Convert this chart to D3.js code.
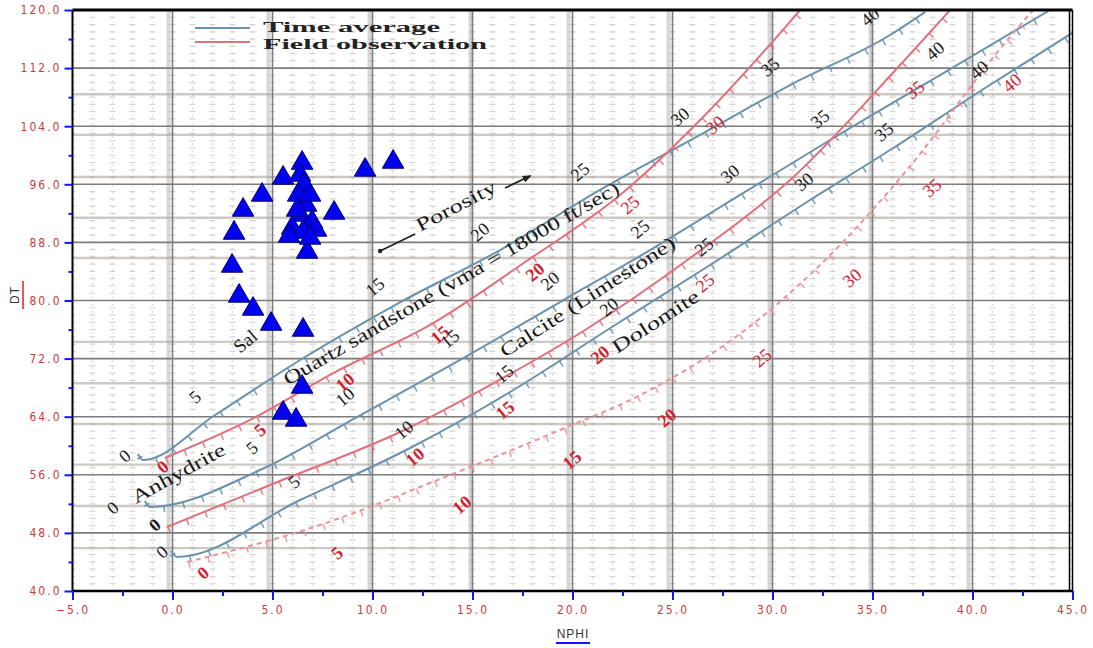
<!DOCTYPE html>
<html lang="en">
<head>
<meta charset="UTF-8" />
<title>DT vs NPHI</title>
<style>
  body { margin: 0; background: #fff; }
  .tick-lbl { font-family: "Liberation Sans Narrow", "DejaVu Sans Condensed", "Liberation Sans", sans-serif; font-size: 12px; fill: #cc3a3a; letter-spacing: 2px; }
  .serif { font-family: "Liberation Serif", "DejaVu Serif", serif; }
</style>
</head>
<body>
<div class="chart"></div>
<script src="https://d3js.org/d3.v7.min.js"></script>
<script>
// axis ticks
const xMajor = [-5, 0, 5, 10, 15, 20, 25, 30, 35, 40, 45]
const xMinor = [-2.5, 2.5, 7.5, 12.5, 17.5, 22.5, 27.5, 32.5, 37.5, 42.5]
const yMajor = [40, 48, 56, 64, 72, 80, 88, 96, 104, 112, 120]
const yMinor = [44, 52, 60, 68, 76, 84, 92, 100, 108, 116]

// grid lines of the scanned chart (not on the axis ticks)
const scanDt = [108.4, 102.8, 97.0, 91.4, 85.85, 74.3, 68.6, 63.0, 57.4, 51.7, 45.9]
const scanNphi = [-0.2, 4.8, 9.85, 14.9, 19.8, 24.8, 29.85, 34.9, 39.8]

// porosity lines: [NPHI, DT, porosity]
const sandTA = [[-1.73, 58.86, null], [-1.48, 58.04, 0], [2.13, 64.23, 5], [6.38, 71.81, 10], [11.13, 79.38, 15], [16.38, 86.95, 20],
  [21.38, 95.22, 25], [26.38, 102.79, 30], [30.88, 109.67, 35], [35.88, 116.56, 40], [37.63, 119.72, null]]
const sandFO = [[-0.38, 58.31, 0], [3.88, 63.55, 5], [8.13, 70.15, 10], [12.88, 76.63, 15], [17.63, 85.30, 20],
  [22.38, 94.53, 25], [26.63, 105.54, 30], [30.73, 117.93, 35], [31.38, 120, null]]
const limeTA = [[-1.38, 52.39, null], [-1.13, 51.57, 0], [4.48, 56.80, 5], [9.13, 63.82, 10], [14.38, 71.81, 15], [19.38, 79.79, 20],
  [23.88, 86.95, 25], [28.38, 94.53, 30], [32.88, 102.10, 35], [38.63, 111.46, 40], [43.88, 120, null]]
const limeFO = [[-0.28, 48.81, 0], [5.13, 54.87, 5], [11.38, 61.89, 10], [15.88, 68.36, 15], [20.63, 75.94, 20],
  [25.88, 85.85, 25], [30.88, 96.59, 30], [36.38, 112.43, 35], [38.88, 120, null]]
const doloTA = [[-0.08, 45.51, null], [0.23, 44.68, 0], [6.38, 52.53, 5], [11.88, 59.69, 10], [16.88, 67.40, 15], [22.13, 76.63, 20],
  [26.88, 84.89, 25], [31.88, 93.84, 30], [35.88, 100.72, 35], [40.63, 109.26, 40], [44.98, 116.83, null]]
const doloFO = [[0.73, 43.99, 0], [7.38, 49.09, 5], [13.63, 55.70, 10], [19.13, 61.89, 15], [23.88, 67.68, 20],
  [28.63, 75.94, 25], [33.13, 86.95, 30], [37.13, 99.35, 35], [41.13, 113.80, 40], [43.03, 120, null]]

// porosity numbers printed on each line
const sandTALabels = [0, 5, 15, 20, 25, 30, 35, 40]
const sandFOLabels = [0, 5, 10, 15, 20, 25, 30]
const limeTALabels = [0, 5, 10, 15, 20, 25, 30, 35, 40]
const limeFOLabels = [0, 10, 15, 20, 25, 35]
const doloTALabels = [0, 5, 10, 15, 20, 25, 30, 35, 40]
const doloFOLabels = [0, 5, 10, 15, 20, 25, 30, 35, 40]

// well points
const nphi = [11.03, 9.63, 6.48, 5.53, 4.48, 3.53, 3.08, 2.98, 3.33, 4.03, 4.93, 6.53, 8.08, 6.73, 6.48, 5.53, 6.18,
  6.38, 6.58, 6.28, 6.68, 6.38, 6.98, 5.98, 6.53, 7.18, 5.83, 6.88, 6.23, 6.88]
const dt = [99.07, 97.97, 98.93, 96.87, 94.53, 92.46, 89.29, 84.75, 80.62, 78.83, 76.76, 75.94, 92.05, 86.68, 68.09, 64.51, 63.55,
  97.28, 95.90, 94.53, 93.15, 91.77, 90.81, 89.98, 89.43, 89.71, 88.88, 88.61, 92.46, 94.53]

const width = 1093
const height = 648

const x = d3.scaleLinear().domain([-5, 45]).range([72.5, 1072.5])
const y = d3.scaleLinear().domain([40, 120]).range([591, 10])

const svg = d3.select('.chart').append('svg')
  .attr('width', width)
  .attr('height', height)
  .style('background', '#fff')

svg.append('clipPath').attr('id', 'plotClip')
  .append('rect')
  .attr('x', x(-5)).attr('y', y(120))
  .attr('width', x(45) - x(-5)).attr('height', y(40) - y(120))

const plot = svg.append('g').attr('clip-path', 'url(#plotClip)')

// speckled fine grid
const fineX = d3.range(-5, 46, 1)
const fineY = d3.range(40, 121, 1)
plot.append('g').selectAll('line').data(fineX).join('line')
  .attr('x1', d => x(d)).attr('x2', d => x(d))
  .attr('y1', y(120)).attr('y2', y(40))
  .attr('stroke', '#dadada').attr('stroke-width', 1)
  .attr('stroke-dasharray', '2 5')
plot.append('g').selectAll('line').data(fineY).join('line')
  .attr('x1', x(-5)).attr('x2', x(45))
  .attr('y1', d => y(d)).attr('y2', d => y(d))
  .attr('stroke', '#d4d4d4').attr('stroke-width', 1.2)
  .attr('stroke-dasharray', '6 14').attr('stroke-dashoffset', 3)

// blurry scan grid
plot.append('g').selectAll('line').data(scanNphi).join('line')
  .attr('x1', d => x(d)).attr('x2', d => x(d))
  .attr('y1', y(120)).attr('y2', y(40))
  .attr('stroke', '#8d8d8d').attr('stroke-width', 4).attr('opacity', 0.35)
plot.append('g').selectAll('line').data(scanDt).join('line')
  .attr('x1', x(-5)).attr('x2', x(45))
  .attr('y1', d => y(d)).attr('y2', d => y(d))
  .attr('stroke', '#a59d94').attr('stroke-width', 2.4).attr('opacity', 0.55)

// main grid
plot.append('g').selectAll('line').data(xMajor.slice(1, -1)).join('line')
  .attr('x1', d => x(d)).attr('x2', d => x(d))
  .attr('y1', y(120)).attr('y2', y(40))
  .attr('stroke', '#7c7c7c').attr('stroke-width', 1.6)
plot.append('g').selectAll('line').data(yMajor.slice(1, -1)).join('line')
  .attr('x1', x(-5)).attr('x2', x(45))
  .attr('y1', d => y(d)).attr('y2', d => y(d))
  .attr('stroke', '#7c7c7c').attr('stroke-width', 1.6)

// porosity lines
const line = d3.line()
  .x(d => x(d[0]))
  .y(d => y(d[1]))
  .curve(d3.curveMonotoneX)

const taColor = '#6a92ad'
const foColor = '#e0707c'

const curves = [
  { pts: sandTA, labels: sandTALabels, color: taColor, txt: '#1a1a1a', off: [-20, -18], zeroOff: [-18, -4], dash: null },
  { pts: sandFO, labels: sandFOLabels, color: foColor, txt: '#d1232e', off: [10, 10], zeroOff: [-2, 9], dash: null },
  { pts: limeTA, labels: limeTALabels, color: taColor, txt: '#1a1a1a', off: [-10, -21], zeroOff: [-37, 1], dash: null },
  { pts: limeFO, labels: limeFOLabels, color: foColor, txt: '#d1232e', off: [15, 25], zeroOff: [-12, -2], zeroTxt: '#1a1a1a', dash: null },
  { pts: doloTA, labels: doloTALabels, color: taColor, txt: '#1a1a1a', off: [-6, -18], zeroOff: [-15, -5], dash: null },
  { pts: doloFO, labels: doloFOLabels, color: '#eb949c', txt: '#d1232e', off: [17, 28], zeroOff: [16, 11], dash: '5 4' }
]

curves.forEach(c => {
  // small porosity ticks under the line
  plot.append('path')
    .attr('d', line(c.pts))
    .attr('fill', 'none')
    .attr('stroke', c.color)
    .attr('stroke-width', 6)
    .attr('stroke-dasharray', '1.6 18.4')
    .attr('transform', 'translate(1.5,3)')
    .attr('opacity', 0.85)
  plot.append('path')
    .attr('d', line(c.pts))
    .attr('fill', 'none')
    .attr('stroke', c.color)
    .attr('stroke-width', 2)
    .attr('stroke-dasharray', c.dash)
})

curves.forEach(c => {
  const lab = c.pts.filter(p => p[2] !== null && c.labels.includes(p[2]))
  plot.append('g').selectAll('text').data(lab).join('text')
    .attr('class', 'serif')
    .attr('transform', d => {
      const o = d[2] === 0 ? c.zeroOff : c.off
      return `translate(${x(d[0]) + o[0]},${y(d[1]) + o[1]}) rotate(-40)`
    })
    .attr('text-anchor', 'middle')
    .attr('dominant-baseline', 'central')
    .attr('font-size', 18)
    .attr('font-weight', d => (c.txt !== '#1a1a1a' && d[2] <= 20) ? 'bold' : 'normal')
    .attr('fill', d => (d[2] === 0 && c.zeroTxt) ? c.zeroTxt : c.txt)
    .text(d => d[2])
})

// chart annotations (rotated text along the lines)
const notes = [
  { t: 'Quartz sandstone (vma = 18000 ft/sec)', nx: 5.78, dt: 68.26, a: -30.2, len: 385 },
  { t: 'Calcite (Limestone)', nx: 16.63, dt: 72.08, a: -33, len: 205 },
  { t: 'Dolomite', nx: 22.23, dt: 72.63, a: -33, len: 100 },
  { t: 'Anhydrite', nx: -1.83, dt: 51.98, a: -29, len: 104 },
  { t: 'Sal', nx: 3.38, dt: 72.63, a: -40, len: null },
  { t: 'Porosity', nx: 12.38, dt: 89.43, a: -27.7, len: 88 }
]
plot.append('g').selectAll('text').data(notes).join('text')
  .attr('class', 'serif')
  .attr('transform', d => `translate(${x(d.nx)},${y(d.dt)}) rotate(${d.a})`)
  .attr('font-size', 19)
  .attr('fill', '#1a1a1a')
  .attr('textLength', d => d.len)
  .attr('lengthAdjust', 'spacingAndGlyphs')
  .text(d => d.t)

// porosity arrow
svg.append('defs').append('marker')
  .attr('id', 'arrow').attr('viewBox', '0 0 10 10')
  .attr('refX', 8).attr('refY', 5)
  .attr('markerWidth', 5).attr('markerHeight', 5)
  .attr('orient', 'auto')
  .append('path').attr('d', 'M0,1 L10,5 L0,9 z').attr('fill', '#222')
const arrowA = [[10.38, 86.82], [12.13, 89.16]]
const arrowB = [[16.63, 95.49], [17.88, 97.14]]
plot.append('path').attr('d', d3.line().x(d => x(d[0])).y(d => y(d[1]))(arrowA))
  .attr('stroke', '#222').attr('stroke-width', 1.8)
plot.append('circle').attr('cx', x(arrowA[0][0])).attr('cy', y(arrowA[0][1])).attr('r', 2.2).attr('fill', '#222')
plot.append('path').attr('d', d3.line().x(d => x(d[0])).y(d => y(d[1]))(arrowB))
  .attr('stroke', '#222').attr('stroke-width', 1.8).attr('marker-end', 'url(#arrow)')

// legend
const legend = svg.append('g')
const legendItems = [['Time average', taColor], ['Field observation', foColor]]
legendItems.forEach((d, i) => {
  legend.append('line')
    .attr('x1', 195).attr('x2', 250)
    .attr('y1', 28 + i * 14).attr('y2', 28 + i * 14)
    .attr('stroke', d[1]).attr('stroke-width', 2)
  legend.append('text')
    .attr('class', 'serif')
    .attr('x', 263).attr('y', 32 + i * 17)
    .attr('font-size', 15).attr('font-weight', 'bold')
    .attr('fill', '#222')
    .attr('textLength', i === 0 ? 177 : 224)
    .attr('lengthAdjust', 'spacingAndGlyphs')
    .text(d[0])
})

// well data triangles
const wells = nphi.map((v, i) => [v, dt[i]])
svg.append('g').selectAll('path').data(wells).join('path')
  .attr('d', d3.symbol(d3.symbolTriangle, 200))
  .attr('transform', d => `translate(${x(d[0])},${y(d[1])})`)
  .attr('fill', '#0202ee')
  .attr('stroke', '#00006a')
  .attr('stroke-width', 1)

// frame
svg.append('line').attr('x1', x(-5)).attr('x2', x(45)).attr('y1', y(120)).attr('y2', y(120))
  .attr('stroke', '#000').attr('stroke-width', 3)
svg.append('line').attr('x1', x(-5)).attr('x2', x(45)).attr('y1', y(40)).attr('y2', y(40))
  .attr('stroke', '#000').attr('stroke-width', 2.5)
svg.append('line').attr('x1', x(-5)).attr('x2', x(-5)).attr('y1', y(120)).attr('y2', y(40))
  .attr('stroke', '#000').attr('stroke-width', 2)
svg.append('line').attr('x1', x(45) - 3).attr('x2', x(45) - 3).attr('y1', y(120)).attr('y2', y(40))
  .attr('stroke', '#000').attr('stroke-width', 1.5)
svg.append('line').attr('x1', x(45)).attr('x2', x(45)).attr('y1', y(120)).attr('y2', y(40))
  .attr('stroke', '#000').attr('stroke-width', 1.5)

// axes
const styleAxis = g => {
  g.select('.domain').remove()
  g.selectAll('line').attr('stroke', '#1414ff').attr('stroke-width', 2)
  g.selectAll('text').attr('class', 'tick-lbl')
}
svg.append('g').attr('transform', `translate(${x(-5)},0)`)
  .call(d3.axisLeft(y).tickValues(yMajor).tickFormat(d3.format('.1f')).tickSize(8).tickPadding(3))
  .call(styleAxis)
svg.append('g').attr('transform', `translate(${x(-5)},0)`)
  .call(d3.axisLeft(y).tickValues(yMinor).tickFormat('').tickSize(4))
  .call(styleAxis)
svg.append('g').attr('transform', `translate(0,${y(40)})`)
  .call(d3.axisBottom(x).tickValues(xMajor).tickFormat(d3.format('.1f')).tickSize(9).tickPadding(5))
  .call(styleAxis)
svg.append('g').attr('transform', `translate(0,${y(40)})`)
  .call(d3.axisBottom(x).tickValues(xMinor).tickFormat('').tickSize(5))
  .call(styleAxis)

// axis titles
svg.append('text')
  .attr('transform', 'translate(19,295) rotate(-90)')
  .attr('text-anchor', 'middle')
  .attr('font-family', 'Liberation Sans, sans-serif')
  .attr('font-size', 12).attr('letter-spacing', 1)
  .attr('fill', '#333')
  .text('DT')
svg.append('line').attr('x1', 23).attr('x2', 23).attr('y1', 281).attr('y2', 309)
  .attr('stroke', '#e02020').attr('stroke-width', 1.5)

svg.append('text')
  .attr('x', 573).attr('y', 638)
  .attr('text-anchor', 'middle')
  .attr('font-family', 'Liberation Sans, sans-serif')
  .attr('font-size', 12).attr('letter-spacing', 1)
  .attr('fill', '#333')
  .text('NPHI')
svg.append('line').attr('x1', 556).attr('x2', 590).attr('y1', 643).attr('y2', 643)
  .attr('stroke', '#1414ff').attr('stroke-width', 2)
</script>
</body>
</html>
